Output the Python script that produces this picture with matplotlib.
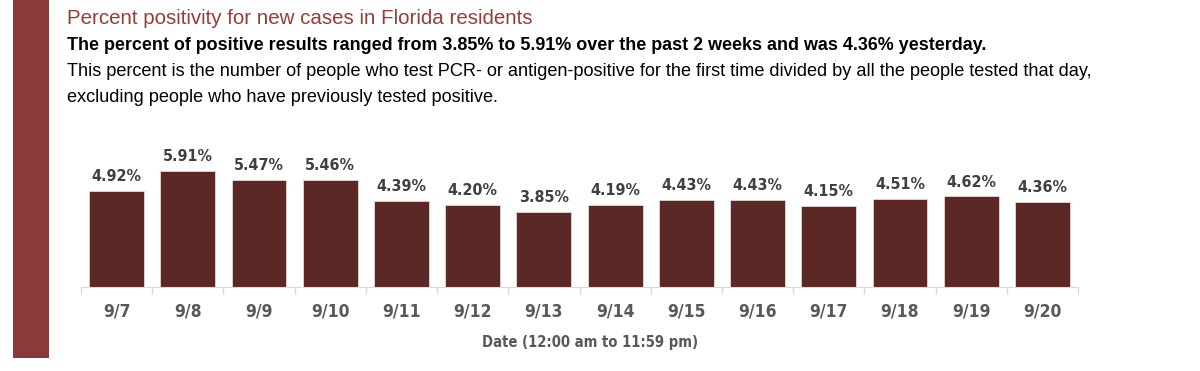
import numpy as np
import matplotlib.pyplot as plt
from matplotlib.patches import Rectangle

# percent positivity, new cases, Florida residents
dates = ['9/7', '9/8', '9/9', '9/10', '9/11', '9/12', '9/13',
         '9/14', '9/15', '9/16', '9/17', '9/18', '9/19', '9/20']
positivity = [4.92, 5.91, 5.47, 5.46, 4.39, 4.20, 3.85,
              4.19, 4.43, 4.43, 4.15, 4.51, 4.62, 4.36]

title = 'Percent positivity for new cases in Florida residents'
subtitle = ('The percent of positive results ranged from 3.85% to 5.91% '
            'over the past 2 weeks and was 4.36% yesterday.')
note1 = ('This percent is the number of people who test PCR- or antigen-positive '
         'for the first time divided by all the people tested that day,')
note2 = 'excluding people who have previously tested positive.'
xlabel = 'Date (12:00 am to 11:59 pm)'

W, H = 1200, 371
fig = plt.figure(figsize=(W / 100, H / 100), dpi=100)

# red band on the left
fig.add_artist(Rectangle((13 / W, 1 - 358 / H), 36 / W, 358 / H,
                         transform=fig.transFigure, color='#8b3a3a', lw=0))

fig.text(67 / W, 1 - 18 / H, title, color='#9b3b36', fontsize=14.8,
         family='Liberation Sans', va='center', ha='left')
fig.text(67 / W, 1 - 46 / H, subtitle, color='black', fontsize=12.9,
         family='Liberation Sans', weight='bold', va='center', ha='left')
fig.text(67 / W, 1 - 72 / H, note1, color='black', fontsize=13.1,
         family='Liberation Sans', va='center', ha='left')
fig.text(67 / W, 1 - 97 / H, note2, color='black', fontsize=13.1,
         family='Liberation Sans', va='center', ha='left')

lab_font = dict(family='DejaVu Sans', stretch='condensed', weight='bold')

ax = fig.add_axes([81 / W, (H - 287) / H, 997 / W, 7 * 19.6 / H])
x = np.arange(len(dates))
ax.bar(x, positivity, width=0.77, color='#5c2825', edgecolor='#e8d8d8', linewidth=0.6)
for xi, v in zip(x, positivity):
    ax.text(xi, v + 0.35, f'{v:.2f}%', ha='center', va='bottom', fontsize=11.5,
            color='#404040', **lab_font)

ax.set_xlim(-0.5, len(dates) - 0.5)
ax.set_ylim(0, 7)
ax.set_yticks([])
ax.set_xticks(x)
ax.set_xticklabels(dates, fontsize=12.5, color='#595959', **lab_font)
ax.set_xticks(np.arange(-0.5, len(dates)), minor=True)
ax.tick_params(axis='x', which='major', length=0, pad=11)
ax.tick_params(axis='x', which='minor', length=5, color='#d9d9d9', width=1)
for s in ['top', 'right', 'left']:
    ax.spines[s].set_visible(False)
ax.spines['bottom'].set_color('#d9d9d9')

fig.text(590 / W, 1 - 343 / H, xlabel, ha='center', va='center', fontsize=10.6,
         color='#595959', **lab_font)

fig.savefig('out.png', dpi=100)
